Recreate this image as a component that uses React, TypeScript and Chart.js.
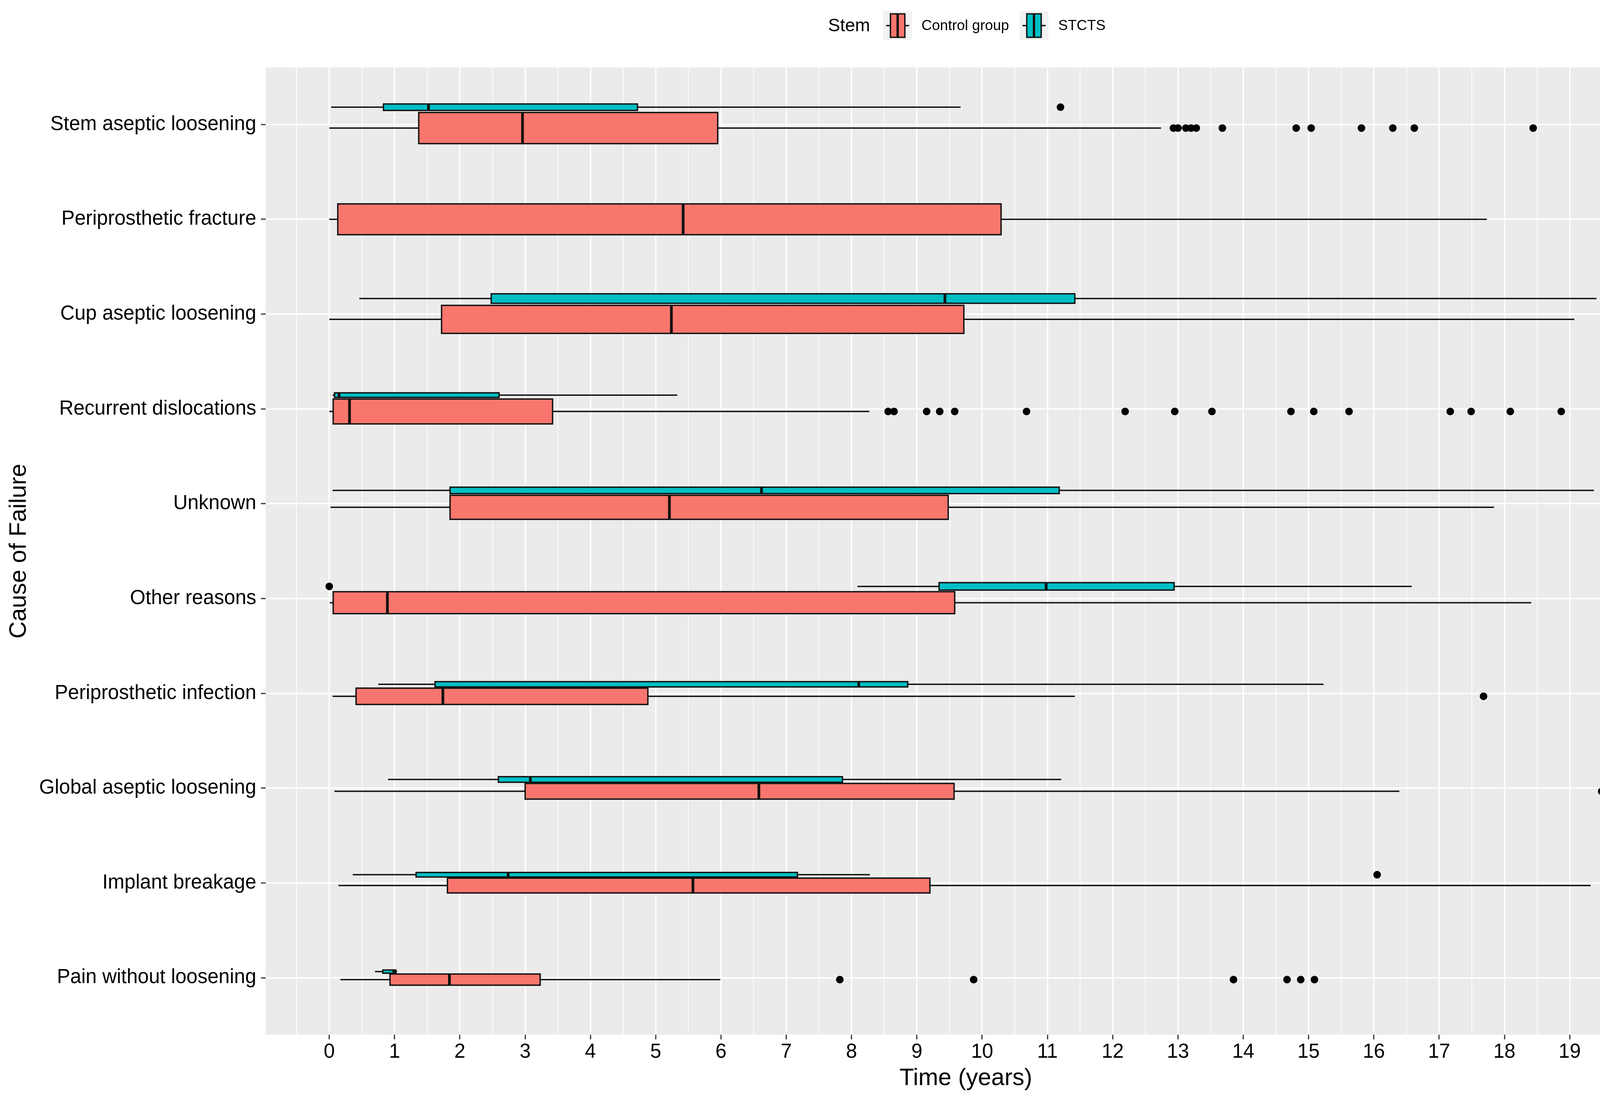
import React, { useEffect, useRef } from 'react';
import { Chart, registerables } from 'chart.js';

Chart.register(...registerables);

// ---------------- data ----------------
const categories = [
  'Stem aseptic loosening',
  'Periprosthetic fracture',
  'Cup aseptic loosening',
  'Recurrent dislocations',
  'Unknown',
  'Other reasons',
  'Periprosthetic infection',
  'Global aseptic loosening',
  'Implant breakage',
  'Pain without loosening',
];

const groupNames = ['Control group', 'STCTS'];

// [lower whisker, Q1, median, Q3, upper whisker]
const controlStats: number[][] = [
  [0.0, 1.37, 2.96, 5.95, 12.74],
  [0.0, 0.13, 5.42, 10.29, 17.73],
  [0.0, 1.72, 5.24, 9.72, 19.07],
  [0.0, 0.06, 0.31, 3.42, 8.27],
  [0.02, 1.85, 5.21, 9.48, 17.84],
  [0.01, 0.06, 0.89, 9.58, 18.41],
  [0.05, 0.41, 1.74, 4.88, 11.42],
  [0.08, 3.0, 6.58, 9.57, 16.39],
  [0.14, 1.81, 5.57, 9.2, 19.32],
  [0.17, 0.93, 1.84, 3.23, 5.99],
];

const stctsStats: (number[] | null)[] = [
  [0.03, 0.83, 1.52, 4.72, 9.67],
  null,
  [0.46, 2.48, 9.43, 11.42, 19.41],
  [0.05, 0.08, 0.15, 2.6, 5.33],
  [0.05, 1.85, 6.62, 11.18, 19.37],
  [8.09, 9.34, 10.98, 12.94, 16.58],
  [0.75, 1.62, 8.11, 8.86, 15.23],
  [0.9, 2.59, 3.08, 7.86, 11.21],
  [0.36, 1.33, 2.74, 7.17, 8.28],
  [0.7, 0.82, 0.99, 1.02, 1.04],
];

const controlN = [280, 275, 227, 179, 167, 139, 77, 71, 64, 36];
const stctsN = [12, 0, 26, 6, 12, 16, 8, 9, 6, 3];

const controlOutliers: number[][] = [
  [12.93, 13.0, 13.12, 13.2, 13.28, 13.68, 14.81, 15.04, 15.81, 16.29, 16.62, 18.44],
  [],
  [],
  [8.56, 8.65, 9.15, 9.35, 9.58, 10.68, 12.19, 12.95, 13.52, 14.73, 15.08, 15.62, 17.17, 17.49, 18.09, 18.87],
  [],
  [],
  [17.68],
  [19.49],
  [],
  [7.82, 9.87, 13.85, 14.67, 14.88, 15.09],
];

const stctsOutliers: number[][] = [[11.2], [], [], [], [], [0.0], [], [], [16.05], []];

const xTicks = [0, 1, 2, 3, 4, 5, 6, 7, 8, 9, 10, 11, 12, 13, 14, 15, 16, 17, 18, 19];

// ---------------- styling ----------------
const FONT = "'Liberation Sans', Arial, Helvetica, sans-serif";
const COLORS = ['#F8766D', '#00BFC4'];
const PANEL_BG = '#EBEBEB';
const K_WIDTH = 0.0218; // box slot width per sqrt(n), in category units
const PADDING = 0.1;
const LABEL_X = 19.5;

type Slot = { c: number; h: number };

function layoutRow(i: number): { control: Slot; stcts: Slot | null } {
  const ws = stctsN[i] > 0 && stctsStats[i] ? K_WIDTH * Math.sqrt(stctsN[i]) : 0;
  const wc = K_WIDTH * Math.sqrt(controlN[i]);
  const total = ws + wc;
  const start = i - total / 2;
  return {
    stcts: ws > 0 ? { c: start + ws / 2, h: ws * (1 - PADDING) } : null,
    control: { c: start + ws + wc / 2, h: wc * (1 - PADDING) },
  };
}

function drawBox(ctx: CanvasRenderingContext2D, xs: any, ys: any, st: number[], slot: Slot, color: string) {
  const [lo, q1, med, q3, hi] = st;
  const yc = ys.getPixelForValue(slot.c);
  const yTop = ys.getPixelForValue(slot.c - slot.h / 2);
  const yBot = ys.getPixelForValue(slot.c + slot.h / 2);
  const px = (v: number) => xs.getPixelForValue(v);
  ctx.save();
  ctx.strokeStyle = '#111';
  ctx.lineWidth = 3.5;
  ctx.lineCap = 'butt';
  // whiskers
  ctx.beginPath();
  ctx.moveTo(px(lo), yc);
  ctx.lineTo(px(q1), yc);
  ctx.moveTo(px(q3), yc);
  ctx.lineTo(px(hi), yc);
  ctx.stroke();
  // box
  ctx.fillStyle = color;
  ctx.fillRect(px(q1), yTop, px(q3) - px(q1), yBot - yTop);
  ctx.strokeRect(px(q1), yTop, px(q3) - px(q1), yBot - yTop);
  // median
  ctx.lineWidth = 7;
  ctx.beginPath();
  ctx.moveTo(px(med), yTop);
  ctx.lineTo(px(med), yBot);
  ctx.stroke();
  ctx.restore();
}

const boxPlugin = {
  id: 'boxes',
  beforeDraw(chart: any) {
    const { ctx, chartArea: a } = chart;
    ctx.save();
    ctx.fillStyle = PANEL_BG;
    ctx.fillRect(a.left, a.top, a.right - a.left, a.bottom - a.top);
    ctx.restore();
  },
  beforeDatasetsDraw(chart: any) {
    const { ctx } = chart;
    const xs = chart.scales.x;
    const ys = chart.scales.y;
    categories.forEach((_, i) => {
      const l = layoutRow(i);
      drawBox(ctx, xs, ys, controlStats[i], l.control, COLORS[0]);
      const s = stctsStats[i];
      if (s && l.stcts) drawBox(ctx, xs, ys, s, l.stcts, COLORS[1]);
    });
  },
  afterDatasetsDraw(chart: any) {
    const { ctx } = chart;
    const xs = chart.scales.x;
    const ys = chart.scales.y;
    ctx.save();
    ctx.fillStyle = '#000';
    ctx.font = `46px ${FONT}`;
    ctx.textAlign = 'left';
    ctx.textBaseline = 'middle';
    const x = xs.getPixelForValue(LABEL_X);
    categories.forEach((_, i) => {
      if (stctsN[i] > 0) {
        ctx.fillText(String(stctsN[i]), x, ys.getPixelForValue(i - 0.25));
        ctx.fillText(String(controlN[i]), x, ys.getPixelForValue(i + 0.25));
      } else {
        ctx.fillText(String(controlN[i]), x, ys.getPixelForValue(i));
      }
    });
    ctx.restore();
  },
  afterDraw(chart: any) {
    const { ctx } = chart;
    ctx.save();
    ctx.fillStyle = '#000';
    ctx.textBaseline = 'middle';
    ctx.textAlign = 'left';
    ctx.font = `46px ${FONT}`;
    ctx.fillText('Stem', 2120, 67);
    const keyX = [2261, 2610];
    const textX = [2359, 2709];
    const kw = 74;
    const kh = 75;
    const ky = 28;
    groupNames.forEach((name, g) => {
      const kx = keyX[g];
      ctx.fillStyle = '#F2F2F2';
      ctx.fillRect(kx, ky, kw, kh);
      const bx0 = kx + kw * 0.25;
      const bx1 = kx + kw * 0.75;
      const by0 = ky + kh * 0.1;
      const by1 = ky + kh * 0.9;
      const ym = ky + kh / 2;
      ctx.strokeStyle = '#111';
      ctx.lineWidth = 3.5;
      ctx.beginPath();
      ctx.moveTo(kx + kw * 0.1, ym);
      ctx.lineTo(bx0, ym);
      ctx.moveTo(bx1, ym);
      ctx.lineTo(kx + kw * 0.9, ym);
      ctx.stroke();
      ctx.fillStyle = COLORS[g];
      ctx.fillRect(bx0, by0, bx1 - bx0, by1 - by0);
      ctx.strokeRect(bx0, by0, bx1 - bx0, by1 - by0);
      ctx.lineWidth = 6;
      ctx.beginPath();
      ctx.moveTo(kx + kw / 2, by0);
      ctx.lineTo(kx + kw / 2, by1);
      ctx.stroke();
      ctx.fillStyle = '#000';
      ctx.font = `37px ${FONT}`;
      ctx.fillText(name, textX[g], 67);
    });
    ctx.restore();
  },
};

function outlierPoints(list: number[][], which: 'control' | 'stcts') {
  const pts: { x: number; y: number }[] = [];
  list.forEach((vals, i) => {
    const l = layoutRow(i);
    const slot = which === 'control' ? l.control : l.stcts;
    if (!slot) return;
    vals.forEach((v) => pts.push({ x: v, y: slot.c }));
  });
  return pts;
}

export default function App() {
  const ref = useRef<HTMLCanvasElement | null>(null);

  useEffect(() => {
    if (!ref.current) return;
    const isMajor = (v: number) => xTicks.includes(v);
    const chart = new Chart(ref.current, {
      type: 'scatter',
      data: {
        datasets: [
          {
            label: groupNames[0],
            data: outlierPoints(controlOutliers, 'control'),
            pointRadius: 9.75,
            pointHoverRadius: 9.75,
            backgroundColor: '#000',
            borderWidth: 0,
          },
          {
            label: groupNames[1],
            data: outlierPoints(stctsOutliers, 'stcts'),
            pointRadius: 9.75,
            pointHoverRadius: 9.75,
            backgroundColor: '#000',
            borderWidth: 0,
          },
        ],
      },
      options: {
        animation: false,
        responsive: false,
        devicePixelRatio: 1,
        events: [],
        layout: { padding: { left: 0, right: 40, top: 173, bottom: 0 } },
        plugins: {
          legend: { display: false },
          tooltip: { enabled: false },
          title: { display: false },
        },
        scales: {
          x: {
            type: 'linear',
            position: 'bottom',
            min: -0.975,
            max: 20.475,
            afterBuildTicks: (s: any) => {
              const vals: number[] = [];
              const ext = [...xTicks, xTicks[xTicks.length - 1] + 1];
              ext.forEach((b) => {
                vals.push(b - 0.5);
                vals.push(b);
              });
              s.ticks = vals.filter((v) => v >= s.min && v <= s.max).map((v) => ({ value: v }));
            },
            afterFit: (s: any) => {
              s.height = 162;
            },
            ticks: {
              autoSkip: false,
              maxRotation: 0,
              padding: 2,
              color: '#000',
              font: { size: 51, family: FONT },
              callback: (v: any) => (isMajor(Number(v)) ? String(v) : ''),
            },
            grid: {
              color: '#FFFFFF',
              lineWidth: (c: any) => (isMajor(c.tick?.value) ? 3.6 : 1.8),
              tickColor: (c: any) => (isMajor(c.tick?.value) ? '#333333' : 'rgba(0,0,0,0)'),
              tickLength: 12,
              tickWidth: 3,
              drawTicks: true,
            },
            border: { display: false },
            title: {
              display: true,
              text: 'Time (years)',
              color: '#000',
              font: { size: 61, family: FONT },
              padding: { top: 0, bottom: 13 },
            },
          },
          y: {
            type: 'linear',
            position: 'left',
            min: -0.6,
            max: 9.6,
            reverse: true,
            afterBuildTicks: (s: any) => {
              s.ticks = categories.map((_, i) => ({ value: i }));
            },
            afterFit: (s: any) => {
              s.width = 680;
            },
            ticks: {
              autoSkip: false,
              padding: 12,
              color: '#000',
              font: { size: 51, family: FONT },
              callback: (v: any) => categories[Number(v)] ?? '',
            },
            grid: {
              color: '#FFFFFF',
              lineWidth: 3.6,
              tickColor: '#333333',
              tickLength: 12,
              tickWidth: 3,
            },
            border: { display: false },
            title: {
              display: true,
              text: 'Cause of Failure',
              color: '#000',
              font: { size: 61, family: FONT },
              padding: { top: 13, bottom: 0 },
            },
          },
        },
      },
      plugins: [boxPlugin],
    } as any);
    return () => chart.destroy();
  }, []);

  return (
    <div style={{ position: 'absolute', left: 0, top: 0, width: 4305, height: 2810, background: '#fff' }}>
      <canvas ref={ref} width={4305} height={2810} style={{ width: 4305, height: 2810, display: 'block' }} />
    </div>
  );
}
